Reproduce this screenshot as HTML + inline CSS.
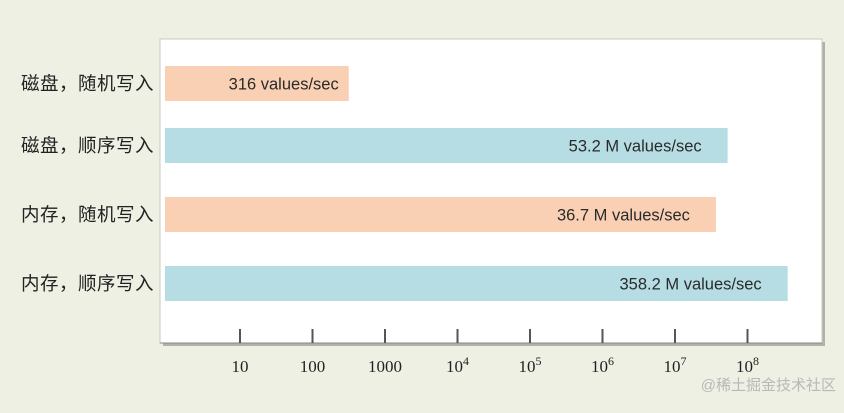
<!DOCTYPE html>
<html><head><meta charset="utf-8">
<style>
html,body{margin:0;padding:0;}
body{width:844px;height:413px;background:#eef0e4;position:relative;overflow:hidden;font-family:"Liberation Sans","Noto Sans CJK SC",sans-serif;}
svg{position:absolute;left:0;top:0;}
</style></head>
<body>
<svg width="844" height="413" id="chart"></svg>
<script>
const categories = ["磁盘，随机写入","磁盘，顺序写入","内存，随机写入","内存，顺序写入"];
const values = [316, 53.2e6, 36.7e6, 358.2e6];
const valueLabels = ["316 values/sec","53.2 M values/sec","36.7 M values/sec","358.2 M values/sec"];
const tickValues = [1e1,1e2,1e3,1e4,1e5,1e6,1e7,1e8];
const tickBase = ["10","100","1000","10","10","10","10","10"];
const tickExp = ["","","","4","5","6","7","8"];
const barKinds = ["random","seq","random","seq"];

const NS="http://www.w3.org/2000/svg";
const svg=document.getElementById('chart');
function mk(t,a,p){const e=document.createElementNS(NS,t);for(const k in a)e.setAttribute(k,a[k]);(p||svg).appendChild(e);return e;}
const x=v=>240+(Math.log10(v)-1)*72.5;
const barLeft=165, barH=35;
const rowY=[66,128,197,266];

const shadow=mk('rect',{x:163,y:42,width:662,height:304,fill:'#b0b2aa'});


const plot=mk('rect',{x:160,y:39,width:662,height:304,fill:'#ffffff',stroke:'#c8cac0','stroke-width':1});



categories.forEach((c,i)=>{
  const by=rowY[i];
  const r=mk('rect',{x:barLeft,y:by,width:x(values[i])-barLeft,height:barH,fill:barKinds[i]==='random'?'#f9d0b4':'#b7dde4'});
  
  
  const t=mk('text',{x:x(values[i])-(i===0?10:26),y:by+barH/2+6,'text-anchor':'end','font-size':16.5,fill:'#2a2a2a'});
  t.textContent=valueLabels[i];
  
  
  const l=mk('text',{x:154,y:by+barH/2+6.5,'text-anchor':'end','font-size':18.5,'letter-spacing':0.5,fill:'#222'});
  l.textContent=c;
  
  
});

const axis=mk('line',{x1:160,y1:343,x2:822,y2:343,stroke:'#888','stroke-width':1});


tickValues.forEach((v,i)=>{
  const tx=x(v);
  const tk=mk('line',{x1:tx,y1:329,x2:tx,y2:343,stroke:'#555','stroke-width':2});
  
  
  const t=mk('text',{x:tx,y:372,'text-anchor':'middle','font-size':17,fill:'#222','font-family':'Liberation Serif, serif'});
  
  
  const b=mk('tspan',{},t);b.textContent=tickBase[i];
  if(tickExp[i]){const s=mk('tspan',{dy:-7,'font-size':12},t);s.textContent=tickExp[i];}
});
const wm=mk('text',{x:836,y:390,'text-anchor':'end','font-size':15,fill:'#b8b8b8'});
wm.textContent='@稀土掘金技术社区';


</script>
</body></html>
